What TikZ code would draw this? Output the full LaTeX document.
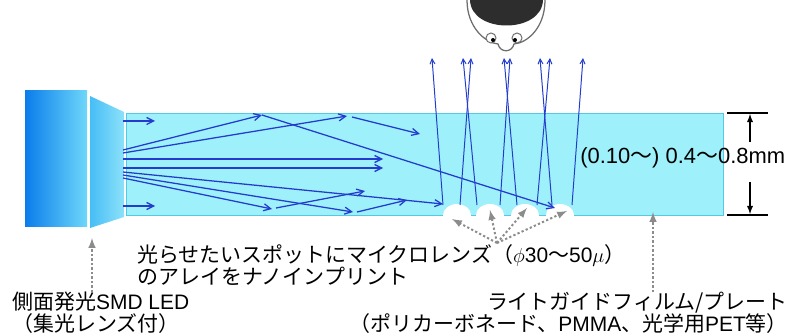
\documentclass[tikz,border=0pt]{standalone}
\usepackage{fontspec}
\setmainfont{Noto Sans CJK JP}
\newfontfamily\latinfont{Liberation Sans}
\usetikzlibrary{positioning,arrows.meta}

\definecolor{guidecyan}{RGB}{158,240,250}
\definecolor{guideedge}{RGB}{85,200,230}
\definecolor{ledblue}{RGB}{10,125,235}
\definecolor{ledlight}{RGB}{110,215,250}
\definecolor{lensleft}{RGB}{70,190,245}
\definecolor{lensright}{RGB}{140,225,250}
\definecolor{rayblue}{RGB}{35,60,205}
\definecolor{pointergray}{RGB}{140,140,140}
\definecolor{hairdark}{RGB}{45,45,45}
\definecolor{faceline}{RGB}{110,110,110}

\begin{document}
\begin{tikzpicture}[x=0.025cm, y=-0.025cm,
    ray/.style={-{Straight Barb[length=5pt,width=5pt]}, rayblue, line width=0.9pt},
    beam/.style={-{Straight Barb[length=3.5pt,width=3.5pt]}, rayblue, line width=0.7pt},
    pointer/.style={-latex, pointergray, line width=1.4pt, dash pattern=on 1.6pt off 1.6pt},
    dimline/.style={black, line width=1pt},
    note/.style={inner sep=0pt, align=left, font=\fontsize{14.9}{15.6}\selectfont}]
    \useasboundingbox (0,0) rectangle (802,334);
    % LED with its lens
    \shade[left color=ledblue, right color=ledlight] (25,91) rectangle (87,226);
    \shade[left color=lensleft, right color=lensright] (90,96) -- (124,112) -- (124,217) -- (90,228) -- cycle;
    % light guide
    \filldraw[fill=guidecyan, draw=guideedge, line width=0.6pt] (126,113) rectangle (723,215);
    % micro lenses
    \foreach \c in {457,490,525,560}
        \fill[white] (\c,215) ellipse [x radius=14, y radius=11];
    % rays travelling in the guide
    \draw[ray] (123,121) -- (155,121);
    \draw[ray] (123,206) -- (155,206);
    \draw[ray] (123,150) -- (262,115);
    \draw[ray] (262,115) -- (555,208);
    \draw[ray] (123,153) -- (347,116);
    \draw[ray] (352,117) -- (420,134);
    \draw[ray] (123,159) -- (383,159);
    \draw[ray] (123,168) -- (383,168);
    \draw[ray] (123,172) -- (443,204);
    \draw[ray] (123,175) -- (353,212);
    \draw[ray] (357,212) -- (407,200);
    \draw[ray] (123,178) -- (272,209);
    \draw[ray] (276,208) -- (365,191);
    % rays leaving through the lenses
    \foreach \xa/\xb in {443/432, 460/471, 477/463, 500/510, 517/504, 537/550, 552/540, 572/583}
        \draw[beam] (\xa,205) -- (\xb,58);
    % viewer
    \filldraw[fill=white, draw=faceline, line width=0.9pt] (467,0) .. controls (467,28) and (486,43) .. (498,44)
        .. controls (500,53) and (512,53) .. (514,44) .. controls (527,43) and (545,28) .. (545,0);
    \fill[hairdark] (470,0) .. controls (471,34) and (542,34) .. (543,0) -- cycle;
    \filldraw[fill=white, draw=faceline, line width=0.7pt] (491,38) circle [radius=5] (517,38) circle [radius=5];
    \fill (493,40) circle [radius=2] (515,40) circle [radius=2];
    % thickness
    \coordinate (dimtop) at (750,114);
    \coordinate (dimbot) at (750,214);
    \draw[dimline] (727,113) -- (768,113);
    \draw[dimline] (727,215) -- (768,215);
    \draw[dimline, -latex] (750,142) -- (dimtop);
    \draw[dimline, -latex] (750,182) -- (dimbot);
    \node[note, anchor=west, font=\fontsize{15.6}{16}\selectfont] (thick) at (580,158)
        {\latinfont(0.10\rmfamily〜\latinfont) 0.4\rmfamily〜\latinfont0.8mm};
    % texts
    \node[note, anchor=north west] (lenstext) at (137,244)
        {光らせたいスポットにマイクロレンズ（$\phi${\latinfont 30}〜{\latinfont 50}$\mu$）\\のアレイをナノインプリント};
    \node[note, anchor=north west] (ledtext) at (12,292) {側面発光{\latinfont SMD LED}\\（集光レンズ付）};
    \node[note, anchor=north east, align=right] (guidetext) at (788,292)
        {ライトガイドフィルム/プレート\\（ポリカーボネード、{\latinfont PMMA}、光学用{\latinfont PET}等）};
    % pointers
    \coordinate (ledfoot) at (92,238);
    \coordinate (guidefoot) at (653,212);
    \coordinate (fan) at (497,243);
    \draw[pointer] (ledtext.north -| ledfoot) -- (ledfoot);
    \draw[pointer] (guidetext.north -| guidefoot) -- (guidefoot);
    \foreach \tx/\ty in {452/219, 490/210, 527/208, 567/211}
        \draw[pointer] (fan) -- (\tx,\ty);
\end{tikzpicture}
\end{document}
